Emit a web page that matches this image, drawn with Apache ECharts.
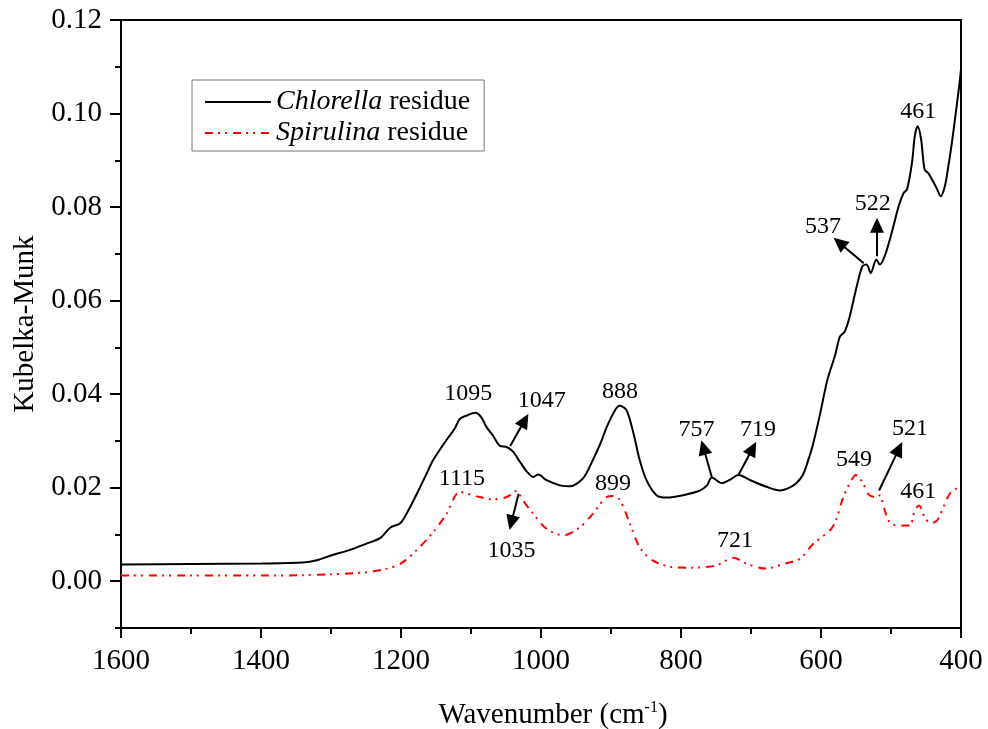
<!DOCTYPE html>
<html>
<head>
<meta charset="utf-8">
<script src="https://cdn.jsdelivr.net/npm/echarts@6/dist/echarts.min.js"></script>
<style>html,body{margin:0;padding:0;background:#fff}#c{width:988px;height:729px}</style>
</head>
<body>
<div id="c"></div>
<script>
// Chlorella residue: [wavenumber, Kubelka-Munk]
const chlorella = [
  [1600,0.0036],[1500,0.0037],[1400,0.0038],[1340,0.0040],[1320,0.0045],[1300,0.0055],[1275,0.0066],
  [1250,0.0080],[1230,0.0092],[1215,0.0115],[1201,0.0124],[1190,0.0150],[1177,0.0188],[1165,0.0225],
  [1154,0.0259],[1135,0.0302],[1123,0.0327],[1116,0.0347],[1105,0.0355],[1094,0.0360],[1085,0.0350],
  [1078,0.0330],[1068,0.0310],[1059,0.0290],[1049,0.0287],[1040,0.0277],[1030,0.0255],[1020,0.0234],
  [1011,0.0223],[1004,0.0228],[992,0.0216],[973,0.0205],[959,0.0203],[940,0.0220],[926,0.0259],
  [915,0.0295],[906,0.0330],[894,0.0366],[888,0.0375],[878,0.0366],[868,0.0317],[859,0.0259],
  [849,0.0215],[835,0.0184],[821,0.0179],[797,0.0184],[773,0.0194],[763,0.0205],[756,0.0222],
  [742,0.0210],[730,0.0217],[718,0.0227],[701,0.0216],[678,0.0202],[659,0.0194],[645,0.0200],
  [635,0.0210],[626,0.0227],[618,0.0260],[611,0.0295],[601,0.0360],[591,0.0430],[582,0.0473],
  [579,0.0488],[573,0.0523],[566,0.0534],[559,0.0566],[549,0.0630],[541,0.0673],[535,0.0677],
  [529,0.0659],[521,0.0688],[516,0.0677],[509,0.0695],[499,0.0745],[489,0.0802],[482,0.0830],
  [477,0.0838],[470,0.0895],[466,0.0952],[462,0.0973],[457,0.0945],[452,0.0880],[447,0.0873],
  [440,0.0855],[435,0.0841],[429,0.0823],[423,0.0845],[418,0.0888],[413,0.0938],[408,0.0995],
  [402,0.1066],[400,0.1095]
];
// Spirulina residue: [wavenumber, Kubelka-Munk]
const spirulina = [
  [1600,0.0012],[1500,0.0012],[1400,0.0012],[1340,0.0013],[1300,0.0015],[1250,0.0019],[1220,0.0027],
  [1201,0.0037],[1178,0.0066],[1154,0.0105],[1135,0.0144],[1116,0.0191],[1093,0.0182],[1069,0.0175],
  [1049,0.0180],[1035,0.0193],[1026,0.0173],[1011,0.0144],[992,0.0112],[968,0.0098],[944,0.0116],
  [926,0.0144],[906,0.0180],[897,0.0182],[887,0.0173],[873,0.0123],[859,0.0073],[840,0.0044],
  [811,0.0030],[782,0.0029],[749,0.0034],[725,0.0050],[706,0.0037],[678,0.0027],[654,0.0037],
  [630,0.0048],[611,0.0080],[587,0.0109],[579,0.0130],[568,0.0180],[559,0.0209],[550,0.0227],
  [541,0.0212],[531,0.0184],[521,0.0180],[516,0.0184],[509,0.0152],[500,0.0123],[482,0.0119],
  [473,0.0119],[466,0.0152],[460,0.0162],[452,0.0137],[443,0.0124],[434,0.0130],[423,0.0166],
  [416,0.0187],[407,0.0198],[400,0.0205]
];
const xTicks = [400, 600, 800, 1000, 1200, 1400, 1600];
const yTicks = [0, 0.02, 0.04, 0.06, 0.08, 0.10, 0.12];
// peak labels: [text, wavenumber, value]
const chlorellaLabels = [
  ['1095',1104,0.0402],['1047',999,0.0387],['888',887,0.0405],['757',778,0.0325],['719',690,0.0323],
  ['537',597,0.0759],['522',526,0.0808],['461',461,0.1003]
];
const spirulinaLabels = [
  ['1115',1113,0.0220],['1035',1042,0.0066],['899',897,0.0209],['721',723,0.0087],
  ['549',553,0.0259],['521',473,0.0327],['461',461,0.0191]
];
// arrows: [fromWn, fromVal, headWn, headVal]
const chlorellaArrows = [
  [1044,0.0289,1023.3,0.0344],[756,0.0223,768,0.0286],[718,0.0227,697.7,0.0284],
  [539,0.0680,573.9,0.0724],[520,0.0695,520,0.0761]
];
const spirulinaArrows = [
  [1032,0.0187,1042.4,0.0125],[517,0.0194,488.6,0.0283]
];

const FONT = '"Liberation Serif","Times New Roman",serif';
const chart = echarts.init(document.getElementById('c'), null, {renderer:'canvas'});

function labelPoints(list){
  return list.map(l => ({coord:[l[1],l[2]], value:l[0]}));
}
function arrowLines(list){
  return list.map(a => [{coord:[a[0],a[1]]},{coord:[a[2],a[3]]}]);
}
const markPointStyle = {
  symbol:'circle', symbolSize:0, silent:true,
  label:{show:true, position:'inside', color:'#000', fontFamily:FONT, fontSize:24, formatter:p=>p.value}
};
const markLineStyle = {
  silent:true, symbol:['none','triangle'], symbolSize:[14,15], precision:4,
  lineStyle:{color:'#000', width:2, type:'solid'}, label:{show:false}, emphasis:{disabled:true}
};

chart.setOption({
  animation:false,
  grid:{left:121, right:27, top:20, bottom:101, show:true, borderColor:'#000', borderWidth:2,
    backgroundColor:'transparent', containLabel:false, outerBoundsMode:'none'},
  legend:{
    orient:'vertical', left:192, top:80, padding:[8,14,4,12], itemGap:3,
    itemWidth:66, itemHeight:14,
    borderColor:'#777', borderWidth:1, borderRadius:0,
    itemStyle:{color:'transparent', borderWidth:0, opacity:0},
    textStyle:{fontFamily:FONT, fontSize:28, color:'#000', lineHeight:28,
      rich:{i:{fontStyle:'italic', fontFamily:FONT, fontSize:28, color:'#000', lineHeight:28}}},
    formatter: n => n==='Chlorella residue' ? '{i|Chlorella} residue' : '{i|Spirulina} residue',
    data:['Chlorella residue','Spirulina residue']
  },
  xAxis:{
    type:'value', min:400, max:1600, interval:200, inverse:true,
    name:'Wavenumber (cm{sup|-1})', nameLocation:'middle', nameGap:72,
    nameTextStyle:{fontFamily:FONT, fontSize:29, color:'#000', padding:[0,0,0,24],
      rich:{sup:{fontFamily:FONT, fontSize:16, color:'#000', verticalAlign:'top', padding:[0,0,14,0]}}},
    axisLine:{onZero:false, lineStyle:{color:'#000', width:2}},
    axisTick:{show:true, length:10, lineStyle:{color:'#000', width:2}},
    minorTick:{show:true, splitNumber:2, length:6, lineStyle:{color:'#000', width:2}},
    splitLine:{show:false},
    axisLabel:{fontFamily:FONT, fontSize:29, color:'#000', margin:19,
      customValues:xTicks, formatter:v=>String(v)}
  },
  yAxis:[{
    type:'value', min:-0.01, max:0.12,
    name:'Kubelka-Munk', nameLocation:'middle', nameGap:80, nameRotate:90,
    nameTextStyle:{fontFamily:FONT, fontSize:29, color:'#000'},
    axisLine:{show:true, onZero:false, lineStyle:{color:'#000', width:2}},
    axisTick:{show:true, length:11, lineStyle:{color:'#000', width:2}, customValues:yTicks},
    splitLine:{show:false},
    axisLabel:{fontFamily:FONT, fontSize:29, color:'#000', margin:19,
      customValues:yTicks, formatter:v=>v.toFixed(2)}
  },{
    type:'value', min:-0.01, max:0.12, interval:0.01, position:'left',
    axisLine:{show:false, onZero:false},
    axisTick:{show:true, length:6, lineStyle:{color:'#000', width:2}},
    axisLabel:{show:false}, splitLine:{show:false}
  }],
  series:[{
    name:'Chlorella residue', type:'line', data:chlorella, showSymbol:false, symbol:'none',
    smooth:0.3, lineStyle:{color:'#000', width:2}, itemStyle:{color:'#000'}, z:3,
    markPoint:Object.assign({data:labelPoints(chlorellaLabels)}, markPointStyle),
    markLine:Object.assign({data:arrowLines(chlorellaArrows)}, markLineStyle)
  },{
    name:'Spirulina residue', type:'line', data:spirulina, showSymbol:false, symbol:'none',
    smooth:0.3, lineStyle:{color:'#ff0000', width:2, type:[8,5,2,5,2,6]}, itemStyle:{color:'#ff0000'}, z:2,
    markPoint:Object.assign({data:labelPoints(spirulinaLabels)}, markPointStyle),
    markLine:Object.assign({data:arrowLines(spirulinaArrows)}, markLineStyle)
  }]
});
</script>
</body>
</html>
